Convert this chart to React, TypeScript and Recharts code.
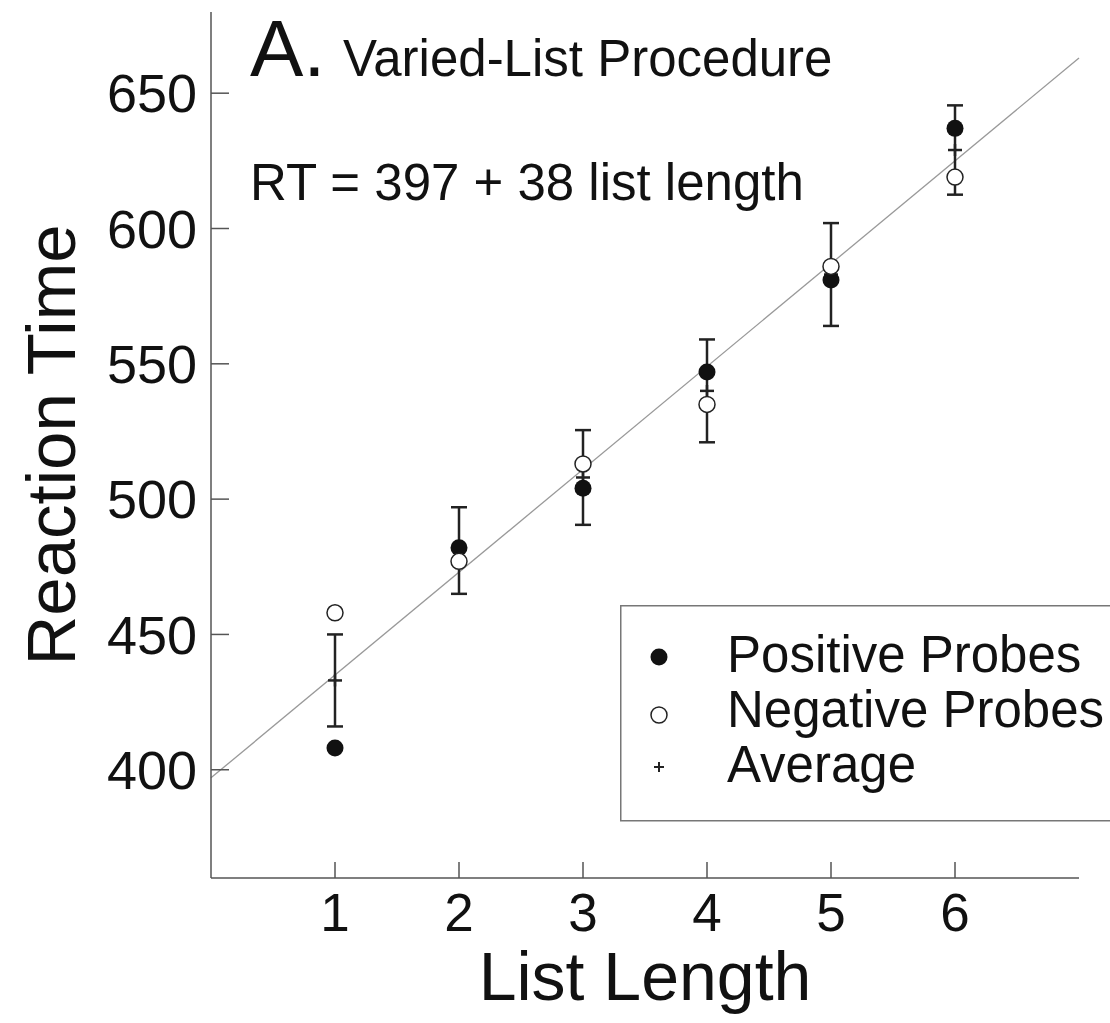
import React from "react";
import {
  ComposedChart,
  Scatter,
  XAxis,
  YAxis,
  ErrorBar,
  ReferenceLine,
  Legend,
  Customized,
} from "recharts";

const FONT = "'Liberation Sans', Arial, Helvetica, sans-serif";

// list lengths on the x axis
const listLengths = [1, 2, 3, 4, 5, 6];
// mean reaction times (ms)
const positiveRT = [408, 482, 504, 547, 581, 637];
const negativeRT = [458, 477, 513, 535, 586, 619];
const averageRT = [433, 481, 508, 540, 583, 629];
const averageErr = [17, 16, 17.5, 19, 19, 16.5];

const xTicks = [1, 2, 3, 4, 5, 6];
const yTicks = [400, 450, 500, 550, 600, 650];
const xDomain = [0, 7];
const yDomain = [360, 680];

// fitted line: RT = 397 + 38 list length
const fitIntercept = 397;
const fitSlope = 38;

const positiveData = listLengths.map((x, i) => ({ x, y: positiveRT[i] }));
const negativeData = listLengths.map((x, i) => ({ x, y: negativeRT[i] }));
const averageData = listLengths.map((x, i) => ({ x, y: averageRT[i], err: averageErr[i] }));

const FilledDot = (props: any) => <circle cx={props.cx} cy={props.cy} r={8.5} fill="#111" />;
const OpenDot = (props: any) => (
  <circle cx={props.cx} cy={props.cy} r={8} fill="#fff" stroke="#222" strokeWidth={1.5} />
);
const PlusMark = (props: any) => (
  <g stroke="#222" strokeWidth={2.5}>
    <line x1={props.cx - 7} y1={props.cy} x2={props.cx + 7} y2={props.cy} />
    <line x1={props.cx} y1={props.cy - 6} x2={props.cx} y2={props.cy + 6} />
  </g>
);

const LegendBox = () => (
  <svg width={500} height={218} style={{ display: "block", fontFamily: FONT }}>
    <rect x={0.75} y={0.75} width={498} height={215} fill="#fff" stroke="#777" strokeWidth={1.5} />
    <circle cx={39} cy={52} r={8.5} fill="#111" />
    <circle cx={39} cy={110} r={8} fill="#fff" stroke="#222" strokeWidth={1.5} />
    <g stroke="#222" strokeWidth={2}>
      <line x1={34} y1={162} x2={44} y2={162} />
      <line x1={39} y1={157} x2={39} y2={167} />
    </g>
    <text x={107} y={67} fontSize={51} fill="#111">Positive Probes</text>
    <text x={107} y={122} fontSize={51} fill="#111">Negative Probes</text>
    <text x={107} y={177} fontSize={51} fill="#111">Average</text>
  </svg>
);

const Annotations = () => (
  <g fontFamily={FONT} fill="#111">
    <text x={250} y={76} fontSize={80}>A.</text>
    <text x={343} y={76} fontSize={51}>Varied-List Procedure</text>
    <text x={250} y={200} fontSize={51}>RT = 397 + 38 list length</text>
  </g>
);

export default function App() {
  return (
    <div style={{ position: "absolute", left: 0, top: 0, width: 1110, height: 1023, overflow: "hidden", background: "#fff" }}>
      <ComposedChart
        width={1110}
        height={1023}
        margin={{ top: 12, right: 31, bottom: 85, left: 111 }}
        style={{ fontFamily: FONT }}
      >
        <XAxis
          dataKey="x"
          type="number"
          domain={xDomain}
          ticks={xTicks}
          allowDataOverflow
          height={60}
          stroke="#555"
          strokeWidth={1.5}
          tickSize={-16}
          tickMargin={31}
          tick={{ fill: "#111", fontSize: 53, fontFamily: FONT }}
          label={{ value: "List Length", position: "insideBottom", offset: -62, fill: "#111", fontSize: 68, fontFamily: FONT }}
        />
        <YAxis
          dataKey="y"
          type="number"
          domain={yDomain}
          ticks={yTicks}
          allowDataOverflow
          width={100}
          stroke="#555"
          strokeWidth={1.5}
          tickSize={-18}
          tickMargin={32}
          tick={{ fill: "#111", fontSize: 54, fontFamily: FONT }}
          label={{ value: "Reaction Time", angle: -90, position: "center", dx: -110, fill: "#111", fontSize: 69, fontFamily: FONT }}
        />
        <ReferenceLine
          segment={[
            { x: xDomain[0], y: fitIntercept + fitSlope * xDomain[0] },
            { x: xDomain[1], y: fitIntercept + fitSlope * xDomain[1] },
          ]}
          stroke="#999"
          strokeWidth={1.3}
        />
        <Scatter name="Average" data={averageData} shape={PlusMark} isAnimationActive={false}>
          <ErrorBar dataKey="err" direction="y" width={8} stroke="#222" strokeWidth={2.5} />
        </Scatter>
        <Scatter name="Positive Probes" data={positiveData} shape={FilledDot} isAnimationActive={false} />
        <Scatter name="Negative Probes" data={negativeData} shape={OpenDot} isAnimationActive={false} />
        <Legend
          layout="vertical"
          align="center"
          verticalAlign="middle"
          content={LegendBox}
          wrapperStyle={{ left: 620, top: 605, width: 500, height: 218 }}
        />
        <Customized component={Annotations} />
      </ComposedChart>
    </div>
  );
}
